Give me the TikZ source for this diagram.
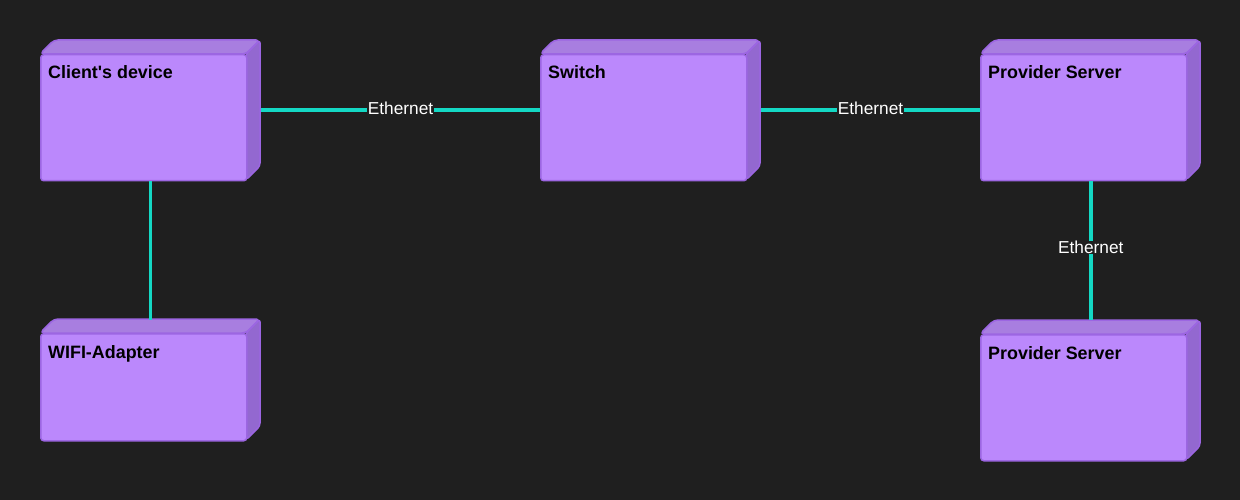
\documentclass[tikz,border=0pt]{standalone}
\usepackage{fontspec}
\setmainfont{Liberation Sans}
\definecolor{bg}{HTML}{1F1F1F}
\definecolor{frontc}{HTML}{BB88FC}
\definecolor{topc}{HTML}{A87EE0}
\definecolor{sidec}{HTML}{9368D0}
\definecolor{edgec}{HTML}{9C66E2}
\definecolor{linec}{HTML}{14D8C4}
\tikzset{
  front/.style={draw=edgec, line width=1.5pt, fill=frontc, rounded corners=3pt,
    minimum width=206pt, inner sep=0pt, anchor=north west},
  topface/.style={draw=edgec, line width=1.5pt, fill=topc, line join=round},
  sideface/.style={draw=edgec, line width=1.5pt, fill=sidec, line join=round},
  ttl/.style={font=\bfseries\fontsize{17.9}{20}\selectfont, text=black, anchor=base west, inner sep=0pt},
  conn/.style={draw=linec, line width=3.6pt},
  lbl/.style={font=\fontsize{17.3}{19}\selectfont, text=white, fill=bg, inner xsep=1pt, inner ysep=0pt}
}
\newcommand{\cube}[5]{% name, x, y (top of top face), front height, title
  \path[topface, rounded corners=4pt] (#2,#3+14) -- (#2+14,#3) -- (#2+220,#3) -- (#2+206,#3+14) -- cycle;
  \path[sideface, rounded corners=3pt] (#2+206,#3+14) -- (#2+220,#3) -- (#2+220,#3+#4) -- (#2+206,#3+14+#4) -- cycle;
  \node[front, minimum height=#4] (#1) at (#2,#3+14) {};
  \node[ttl] (#1t) at (#2+8,#3+39) {#5};
}
\begin{document}
\begin{tikzpicture}[x=1pt,y=-1pt]
\useasboundingbox[fill=bg] (0,0) rectangle (1240,500);
\cube{client}{40}{40}{126}{Client\textquotesingle s device}
\cube{switch}{540}{40}{126}{Switch}
\cube{prov}{980}{40}{126}{Provider Server}
\cube{wifi}{40}{319}{107}{WIFI-Adapter}
\cube{provb}{980}{320}{126}{Provider Server}
\draw[conn] ([shift={(13.5pt,8pt)}]client.east) -- node[lbl, yshift=1.5pt] (e1) {Ethernet} ([yshift=8pt]switch.west);
\draw[conn] ([shift={(13.5pt,8pt)}]switch.east) -- node[lbl, yshift=1.5pt] (e2) {Ethernet} ([yshift=8pt]prov.west);
\draw[conn, line width=3pt] ([xshift=7pt]client.south) -- ([shift={(7pt,13pt)}]wifi.north);
\draw[conn] ([xshift=7pt]prov.south) -- node[lbl, yshift=3pt] (e3) {Ethernet} ([shift={(7pt,14pt)}]provb.north);
\end{tikzpicture}
\end{document}
